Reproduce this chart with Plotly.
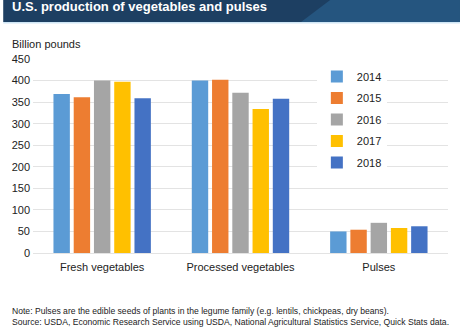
import plotly.graph_objects as go

categories = ["Fresh vegetables", "Processed vegetables", "Pulses"]
years = ["2014", "2015", "2016", "2017", "2018"]
values_2014 = [369, 400, 50]
values_2015 = [361, 402, 54]
values_2016 = [400, 372, 70]
values_2017 = [397, 334, 58]
values_2018 = [359, 358, 62]
series = [values_2014, values_2015, values_2016, values_2017, values_2018]
colors = ["#5b9bd5", "#ed7d31", "#a5a5a5", "#ffc000", "#4472c4"]
y_ticks = [0, 50, 100, 150, 200, 250, 300, 350, 400, 450]

title = "U.S. production of vegetables and pulses"
y_title = "Billion pounds"
note = "Note: Pulses are the edible seeds of plants in the legume family (e.g. lentils, chickpeas, dry beans)."
source = "Source: USDA, Economic Research Service using USDA, National Agricultural Statistics Service, Quick Stats data."

FONT = "Liberation Sans, Arial, Helvetica, sans-serif"

fig = go.Figure()
for yr, vals, col in zip(years, series, colors):
    fig.add_trace(go.Bar(name=yr, x=categories, y=vals, marker_color=col,
                         marker_line_width=0, legendgroup=yr))

fig.update_layout(
    width=460, height=328,
    margin=dict(l=30, r=12, t=59, b=75),
    paper_bgcolor="white", plot_bgcolor="white",
    font=dict(family=FONT, size=11, color="#222222"),
    barmode="group", bargap=0.268, bargroupgap=0.19,
    showlegend=True,
    legend=dict(x=0.684, y=0.985, xanchor="left", yanchor="top",
                bgcolor="white", font=dict(size=11, color="#222222"),
                traceorder="grouped", tracegroupgap=2.5,
                itemwidth=30),
    xaxis=dict(showgrid=False, showline=False, ticks="", tickfont=dict(size=11),
               ticklabelstandoff=6),
    yaxis=dict(range=[0, 450], tickvals=y_ticks, showgrid=True,
               gridcolor="#e3e3e3", gridwidth=1, zeroline=True,
               zerolinecolor="#e3e3e3", zerolinewidth=1, showline=False,
               ticks="", tickfont=dict(size=11), fixedrange=True,
               ticklabelstandoff=2),
    shapes=[
        dict(type="rect", xref="paper", yref="paper", x0=-30/418, x1=430/418,
             y0=1 + 37/194, y1=1 + 59.5/194, fillcolor="#1d3f62", line_width=0,
             layer="above"),
        dict(type="path", xref="paper", yref="paper",
             path="M %f,%f L %f,%f L %f,%f L %f,%f Z" % (
                 (300-30)/418, 1 + 37/194, (330-30)/418, 1 + 59.5/194,
                 430/418, 1 + 59.5/194, 430/418, 1 + 37/194),
             fillcolor="#25557f", line_width=0, layer="above"),
        dict(type="rect", xref="paper", yref="paper", x0=-30/418, x1=430/418,
             y0=1 + 35.5/194, y1=1 + 37/194, fillcolor="#cfe6f5", line_width=0,
             layer="above"),
    ],
    annotations=[
        dict(text="<b>%s</b>" % title, xref="paper", yref="paper",
             x=-23/418, y=1 + (59 - 6.5)/194, xanchor="left", yanchor="middle",
             showarrow=False, font=dict(size=13, color="white", family=FONT)),
        dict(text=y_title, xref="paper", yref="paper",
             x=-23/418, y=1 + (59 - 44)/194, xanchor="left", yanchor="middle",
             showarrow=False, font=dict(size=11, color="#222222")),
        dict(text=note, xref="paper", yref="paper",
             x=-23/418, y=-(311 - 253)/194, xanchor="left", yanchor="middle",
             showarrow=False, font=dict(size=8.6, color="#222222")),
        dict(text=source, xref="paper", yref="paper",
             x=-23/418, y=-(322 - 253)/194, xanchor="left", yanchor="middle",
             showarrow=False, font=dict(size=8.6, color="#222222")),
    ],
)

fig.write_html("out.html")
